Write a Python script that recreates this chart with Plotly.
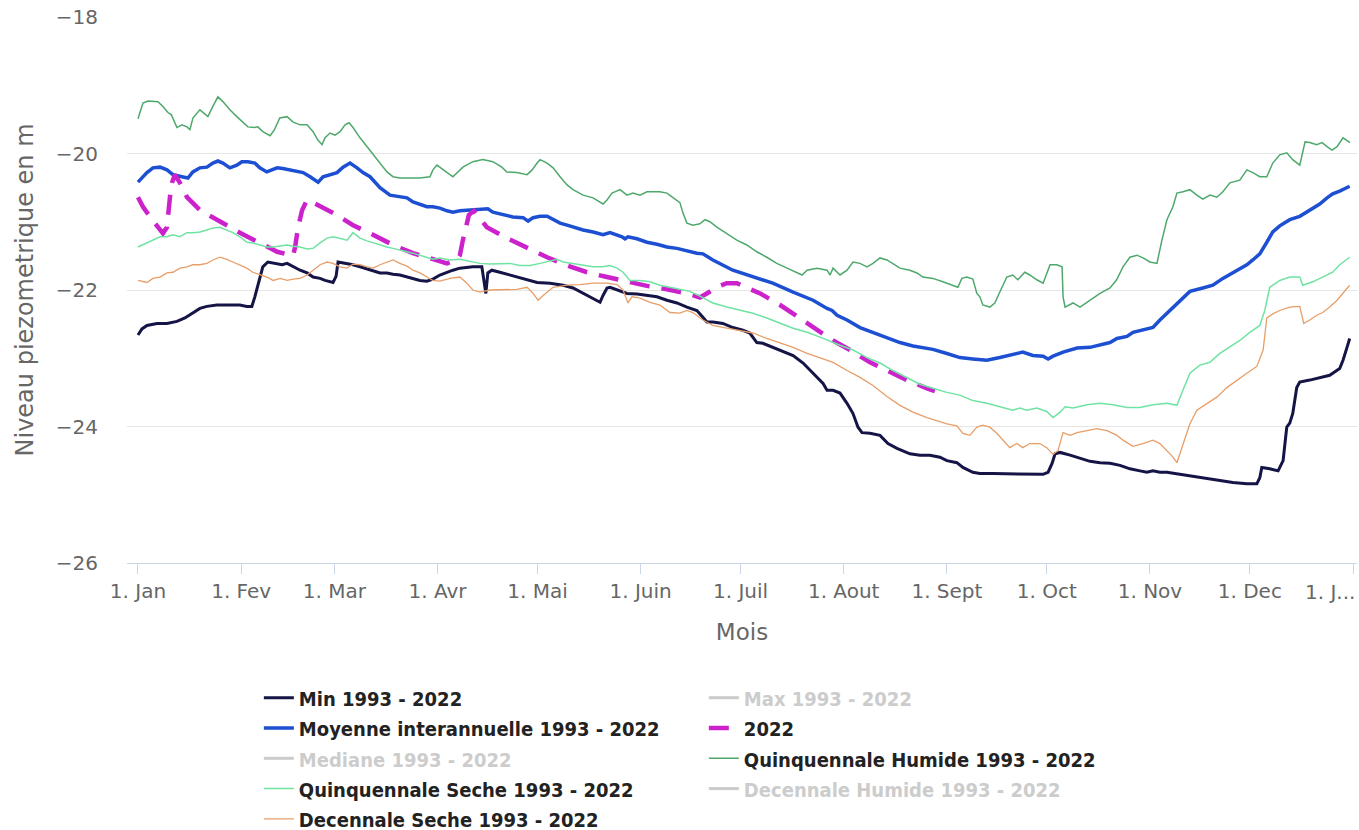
import pandas as pd
import plotly.graph_objects as go

# ---------------- data (day of year since 1 Jan, level in m) ----------------
YEAR_START = "2022-01-01"

MONTH_TICKS = ["2022-01-01", "2022-02-01", "2022-03-01", "2022-04-01", "2022-05-01",
               "2022-06-01", "2022-07-01", "2022-08-01", "2022-09-01", "2022-10-01",
               "2022-11-01", "2022-12-01", "2023-01-01"]
MONTH_LABELS = ["1. Jan", "1. Fev", "1. Mar", "1. Avr", "1. Mai", "1. Juin", "1. Juil",
                "1. Aout", "1. Sept", "1. Oct", "1. Nov", "1. Dec", "1. J..."]
Y_TICKS = [-26, -24, -22, -20, -18]

MIN_SERIES = [
    (0, -22.66), (1.2, -22.57), (2.7, -22.52), (5.7, -22.49), (8.7, -22.49), (11.7, -22.46),
    (14.1, -22.41), (16.5, -22.34), (18.6, -22.27), (20.7, -22.24), (23.7, -22.22), (26.7, -22.22),
    (30.6, -22.22), (32.7, -22.24), (34.2, -22.24), (35.1, -22.10), (36, -21.93), (37.5, -21.66),
    (39, -21.59), (41.2, -21.61), (43.3, -21.63), (44.8, -21.61), (46.6, -21.66), (48.7, -21.71),
    (50.8, -21.75), (52.6, -21.81), (54.7, -21.83), (56.2, -21.86), (58.6, -21.89), (59.5, -21.80),
    (60.1, -21.59), (62.8, -21.61), (64.6, -21.63), (66.7, -21.66), (68.8, -21.69), (70.6, -21.72),
    (72.7, -21.75), (74.8, -21.75), (76.6, -21.77), (78.7, -21.78), (80.8, -21.81), (82.6, -21.83),
    (84.7, -21.86), (86.8, -21.87), (88.6, -21.84), (90.7, -21.78), (92.8, -21.74), (94.6, -21.71),
    (96.7, -21.68), (100.6, -21.66), (103.3, -21.66), (103.9, -21.86), (104.5, -22.05), (105.1, -21.75),
    (106.3, -21.71), (108.7, -21.74), (111.7, -21.78), (114.7, -21.83), (119.9, -21.89), (123.8, -21.90),
    (127.7, -21.93), (130.7, -21.97), (133.7, -22.05), (136.7, -22.12), (138.8, -22.18), (139.7, -22.08),
    (140.9, -21.97), (141.8, -21.96), (143.9, -22.00), (146.9, -22.05), (149.9, -22.06), (152.9, -22.08),
    (155.9, -22.10), (158.9, -22.15), (161.9, -22.19), (164.9, -22.25), (167.9, -22.30), (169.7, -22.40),
    (170.9, -22.47), (172.7, -22.47), (175.7, -22.49), (178.7, -22.55), (181.7, -22.59), (183.8, -22.63),
    (185.9, -22.77), (187.7, -22.78), (190.7, -22.84), (193.8, -22.91), (196.8, -22.96), (199.8, -23.07),
    (202.8, -23.22), (205.8, -23.37), (207, -23.47), (208.8, -23.47), (210.9, -23.51), (213, -23.66),
    (214.8, -23.81), (216.3, -24.01), (217.5, -24.09), (219.9, -24.10), (222.9, -24.13), (225.3, -24.25),
    (228, -24.32), (231.9, -24.40), (234.9, -24.42), (237.9, -24.42), (240.9, -24.45), (243, -24.50),
    (246, -24.53), (247.8, -24.60), (250.8, -24.67), (252.9, -24.69), (256.8, -24.69), (261, -24.69),
    (264.9, -24.69), (268.8, -24.70), (271.9, -24.70), (273.4, -24.67), (274.6, -24.54), (275.5, -24.40),
    (277, -24.38), (280, -24.42), (283, -24.47), (286, -24.51), (289, -24.53), (292, -24.54),
    (295, -24.57), (298, -24.62), (301, -24.65), (303.1, -24.67), (304.9, -24.65), (307, -24.67),
    (309.1, -24.67), (313, -24.70), (316.9, -24.73), (321.1, -24.76), (325, -24.79), (328.9, -24.82),
    (333.1, -24.84), (336.1, -24.84), (337, -24.75), (337.6, -24.60), (340, -24.62), (342.5, -24.65),
    (344, -24.50), (345.1, -24.01), (346, -23.95), (346.9, -23.81), (348.1, -23.43), (349, -23.35),
    (352, -23.32), (355, -23.29), (358, -23.25), (361, -23.15), (362, -23.03), (363.2, -22.84),
    (364, -22.71),
]

MOYENNE_SERIES = [
    (0, -20.42), (2.7, -20.28), (4.5, -20.21), (6.6, -20.20), (8.7, -20.24), (10.5, -20.31),
    (13.2, -20.34), (15, -20.36), (16.5, -20.27), (18.6, -20.21), (20.7, -20.20), (22.5, -20.14),
    (24, -20.11), (25.5, -20.14), (27.6, -20.21), (29.7, -20.17), (31.2, -20.12), (33, -20.12),
    (35.1, -20.14), (36.6, -20.21), (38.7, -20.27), (40.3, -20.24), (41.8, -20.21), (43.5, -20.22),
    (45.7, -20.24), (47.8, -20.27), (49.6, -20.28), (51.7, -20.34), (54.1, -20.42), (55.6, -20.34),
    (57.7, -20.31), (59.8, -20.28), (61.6, -20.20), (63.7, -20.14), (65.8, -20.21), (67.6, -20.28),
    (69.7, -20.34), (72.7, -20.50), (75.7, -20.61), (78.7, -20.64), (80.8, -20.65), (82.6, -20.71),
    (84.7, -20.75), (86.8, -20.78), (88.6, -20.78), (90.7, -20.80), (92.8, -20.84), (94.6, -20.86),
    (96.7, -20.84), (99.7, -20.83), (102.7, -20.81), (105.1, -20.81), (106.6, -20.86), (109.6, -20.90),
    (112.6, -20.93), (115.7, -20.94), (117.2, -20.99), (118.7, -20.94), (120.8, -20.92), (122.9, -20.92),
    (124.7, -20.96), (126.8, -21.02), (128.9, -21.05), (130.7, -21.08), (133.7, -21.12), (136.7, -21.15),
    (139.7, -21.19), (141.8, -21.16), (143.9, -21.19), (145.4, -21.22), (146.3, -21.25), (147.2, -21.22),
    (149.9, -21.25), (152.9, -21.30), (155.9, -21.33), (158.9, -21.37), (161.9, -21.39), (164.9, -21.43),
    (167.9, -21.46), (169.7, -21.47), (172.7, -21.56), (178.7, -21.71), (184.7, -21.81), (190.7, -21.90),
    (196.8, -22.03), (202.8, -22.15), (207, -22.27), (208.5, -22.30), (210, -22.37), (213, -22.44),
    (216.9, -22.55), (220.8, -22.62), (225, -22.69), (228.9, -22.77), (232.8, -22.82), (237, -22.85),
    (238.8, -22.87), (243, -22.93), (246.9, -22.99), (250.8, -23.01), (255, -23.03), (258.9, -22.99),
    (262.8, -22.94), (265.8, -22.91), (268.8, -22.96), (271.9, -22.97), (273.4, -23.01), (274.9, -22.97),
    (277.9, -22.91), (282.1, -22.85), (286, -22.84), (289, -22.81), (292, -22.77), (294.1, -22.71),
    (297.1, -22.68), (298.9, -22.62), (301.9, -22.59), (304.9, -22.55), (307, -22.44), (309.1, -22.34),
    (310.9, -22.25), (313, -22.15), (316, -22.02), (319.9, -21.97), (322.9, -21.93), (325.9, -21.83),
    (328.9, -21.75), (333.1, -21.63), (334.9, -21.56), (337, -21.47), (339.1, -21.30), (340.9, -21.15),
    (343, -21.06), (346, -20.97), (349, -20.92), (351.1, -20.86), (352.9, -20.80), (355, -20.74),
    (357.2, -20.65), (358.9, -20.59), (361, -20.55), (364, -20.48),
]

Y2022_SERIES = [
    (0, -20.64), (1.5, -20.78), (3.6, -20.93), (6, -21.08), (7.5, -21.17), (8.7, -21.08),
    (9, -20.87), (9.6, -20.64), (10.2, -20.43), (11.1, -20.31), (12.6, -20.43), (14.7, -20.64),
    (18.6, -20.83), (24.6, -21.00), (30.6, -21.16), (36.6, -21.31), (41.8, -21.44), (46.6, -21.50),
    (47.2, -21.37), (48.1, -21.08), (49.3, -20.83), (50.8, -20.68), (52.3, -20.71), (58.6, -20.87),
    (64.6, -21.05), (70.6, -21.19), (76.6, -21.34), (82.6, -21.46), (87.7, -21.53), (92.8, -21.61),
    (95.8, -21.56), (96.7, -21.49), (97.6, -21.27), (98.5, -21.05), (99.4, -20.90), (100.9, -20.84),
    (104.8, -21.08), (110.8, -21.24), (116.9, -21.39), (122.9, -21.52), (128.9, -21.64), (134.9, -21.74),
    (140.9, -21.81), (146.9, -21.88), (152.9, -21.94), (158.9, -21.99), (164.9, -22.05), (168.8, -22.11),
    (172.4, -22.00), (174.8, -21.94), (176.9, -21.90), (179.9, -21.90), (181.7, -21.94), (186.9, -22.05),
    (192.9, -22.22), (198.9, -22.41), (204, -22.59), (208.8, -22.74), (213.9, -22.88), (219.9, -23.06),
    (225, -23.18), (231, -23.32), (237, -23.44), (239.4, -23.48),
]

QUINQ_HUMIDE_SERIES = [
    (0, -19.49), (1.5, -19.26), (3, -19.23), (4.5, -19.24), (6, -19.24), (7.5, -19.31),
    (9, -19.40), (10, -19.43), (11.7, -19.62), (13.2, -19.58), (14.7, -19.61), (15.6, -19.65),
    (16.5, -19.48), (18.6, -19.36), (19.5, -19.40), (21, -19.46), (22.5, -19.31), (24, -19.17),
    (25.5, -19.24), (27.6, -19.36), (29.7, -19.46), (31.5, -19.55), (33, -19.61), (35, -19.62),
    (36, -19.61), (37.5, -19.68), (39.7, -19.74), (41, -19.65), (42.6, -19.48), (44.8, -19.46),
    (46.6, -19.54), (48.7, -19.58), (50.8, -19.58), (52.6, -19.68), (54, -19.80), (55.3, -19.87),
    (56.2, -19.77), (57.7, -19.70), (59.2, -19.73), (60.7, -19.68), (62.2, -19.58), (63.4, -19.55),
    (64.6, -19.62), (66.7, -19.77), (68.8, -19.90), (70.6, -20.02), (72.7, -20.14), (74.8, -20.27),
    (76.6, -20.34), (78.7, -20.36), (81.7, -20.36), (84.7, -20.36), (87.7, -20.34), (88.6, -20.24),
    (89.8, -20.17), (91.6, -20.24), (93.7, -20.31), (94.6, -20.34), (97.6, -20.20), (100.6, -20.12),
    (103.6, -20.09), (106.6, -20.12), (109.3, -20.20), (110.8, -20.27), (113.8, -20.28), (116.9, -20.31),
    (118.4, -20.24), (119.9, -20.14), (120.8, -20.09), (122.9, -20.14), (124.7, -20.21), (126.8, -20.34),
    (128.9, -20.46), (130.7, -20.53), (133.7, -20.61), (136.7, -20.65), (139.7, -20.74), (140.9, -20.68),
    (142.4, -20.58), (144.8, -20.53), (146.9, -20.61), (148.7, -20.58), (150.8, -20.61), (152.9, -20.56),
    (156.8, -20.56), (158.9, -20.58), (160.7, -20.65), (162.8, -20.72), (163.7, -20.87), (164.9, -21.02),
    (166.7, -21.05), (168.8, -21.03), (170.3, -20.97), (171.8, -21.00), (173.9, -21.08), (176.9, -21.17),
    (179.9, -21.27), (182.9, -21.34), (185.9, -21.44), (188.9, -21.52), (191.9, -21.61), (195, -21.68),
    (198, -21.75), (199.5, -21.78), (201, -21.71), (204, -21.68), (207, -21.71), (207.9, -21.78),
    (208.8, -21.68), (210.9, -21.78), (213, -21.71), (214.8, -21.59), (216.9, -21.61), (219, -21.66),
    (220.8, -21.61), (222.9, -21.53), (225, -21.56), (226.8, -21.61), (228.9, -21.68), (231.9, -21.71),
    (234, -21.75), (235.8, -21.81), (238.8, -21.83), (241.8, -21.88), (244.8, -21.94), (246.3, -21.96),
    (247.5, -21.83), (249, -21.81), (250.8, -21.84), (252, -22.05), (252.9, -22.10), (253.8, -22.22),
    (255.9, -22.25), (257.4, -22.19), (258.9, -22.03), (260.4, -21.88), (261, -21.81), (262.8, -21.78),
    (264.3, -21.85), (266.4, -21.74), (267.9, -21.78), (270, -21.85), (271.9, -21.90), (274, -21.63),
    (276, -21.63), (277.6, -21.66), (277.9, -22.10), (278.5, -22.25), (280.9, -22.19), (283, -22.25),
    (285, -22.18), (286.9, -22.12), (289, -22.05), (292, -21.97), (294, -21.85), (295.9, -21.66),
    (298, -21.52), (300.1, -21.49), (301.9, -21.53), (304, -21.59), (306.1, -21.61), (307.6, -21.27),
    (309.1, -20.97), (310.9, -20.78), (312.1, -20.58), (313.9, -20.56), (316, -20.53), (318.1, -20.61),
    (319.9, -20.67), (322, -20.61), (324.1, -20.64), (325.9, -20.56), (328, -20.43), (331, -20.39),
    (333.1, -20.24), (334.9, -20.28), (337, -20.34), (339.1, -20.34), (340.9, -20.14), (343, -20.02),
    (345.1, -19.99), (346.9, -20.09), (349, -20.17), (350.6, -19.83), (352, -19.84), (354.1, -19.87),
    (355.7, -19.84), (357.2, -19.90), (358.7, -19.95), (360.2, -19.90), (362, -19.77), (364.1, -19.84),
]

QUINQ_SECHE_SERIES = [
    (0, -21.37), (2.7, -21.31), (4.5, -21.27), (6.6, -21.22), (8.7, -21.22), (10.5, -21.19),
    (12.6, -21.22), (14.7, -21.16), (16.5, -21.16), (18.6, -21.15), (20.7, -21.12), (22.5, -21.09),
    (24.6, -21.08), (26.7, -21.12), (28.5, -21.16), (30.6, -21.22), (32.7, -21.30), (34.5, -21.31),
    (36.6, -21.34), (38.7, -21.37), (40.6, -21.37), (42.7, -21.36), (44.8, -21.34), (46.6, -21.36),
    (48.7, -21.37), (50.8, -21.40), (52.6, -21.39), (54.7, -21.31), (56.8, -21.24), (58.6, -21.22),
    (60.7, -21.24), (62.8, -21.27), (64.6, -21.16), (66.7, -21.24), (68.8, -21.28), (70.6, -21.31),
    (72.7, -21.34), (74.8, -21.37), (76.6, -21.39), (78.7, -21.41), (80.8, -21.44), (82.6, -21.46),
    (84.7, -21.49), (86.8, -21.52), (88.6, -21.55), (90.7, -21.53), (93.7, -21.56), (96.7, -21.55),
    (99.7, -21.58), (102.7, -21.61), (105.7, -21.62), (108.7, -21.61), (111.7, -21.61), (114.7, -21.64),
    (117.8, -21.64), (120.8, -21.61), (123.8, -21.58), (125.9, -21.55), (127.7, -21.59), (130.7, -21.61),
    (133.7, -21.64), (136.7, -21.66), (139.7, -21.66), (141.8, -21.64), (143.9, -21.68), (145.7, -21.74),
    (147.8, -21.86), (150.8, -21.86), (153.8, -21.88), (156.8, -21.93), (159.8, -21.96), (162.8, -21.99),
    (165.8, -22.02), (168.8, -22.09), (172.7, -22.19), (176.9, -22.25), (180.8, -22.30), (184.7, -22.34),
    (188.9, -22.41), (192.9, -22.49), (196.8, -22.56), (201, -22.62), (204.9, -22.69), (210.9, -22.81),
    (214.8, -22.88), (219, -22.99), (222.9, -23.07), (226.8, -23.18), (231, -23.28), (234.9, -23.38),
    (238.8, -23.44), (243, -23.50), (246.9, -23.54), (250.8, -23.62), (255, -23.66), (258.9, -23.71),
    (262.8, -23.76), (264.9, -23.73), (267, -23.76), (270, -23.73), (273, -23.78), (274.9, -23.87),
    (277, -23.79), (278.5, -23.71), (280.9, -23.73), (285.1, -23.68), (289, -23.66), (292.9, -23.68),
    (297.1, -23.72), (301, -23.72), (304.9, -23.68), (309.1, -23.66), (312.1, -23.69), (313.9, -23.47),
    (316, -23.22), (319, -23.10), (322, -23.06), (325, -22.93), (328, -22.84), (331, -22.74),
    (334, -22.62), (337, -22.52), (338.5, -22.30), (340, -21.96), (343, -21.86), (346, -21.81),
    (349, -21.81), (349.9, -21.93), (352.9, -21.88), (355.9, -21.81), (358.9, -21.74), (361, -21.63),
    (364, -21.52),
]

DEC_SECHE_SERIES = [
    (0, -21.86), (2.7, -21.89), (4.5, -21.83), (6.6, -21.81), (8.7, -21.75), (10.5, -21.74),
    (12.6, -21.68), (14.7, -21.66), (16.5, -21.63), (18.6, -21.63), (20.7, -21.61), (22.5, -21.56),
    (24.6, -21.52), (26.7, -21.55), (28.5, -21.59), (30.6, -21.63), (32.7, -21.68), (34.5, -21.74),
    (36.6, -21.78), (38.7, -21.81), (40.6, -21.86), (42.7, -21.83), (44.8, -21.86), (46.6, -21.84),
    (48.7, -21.83), (50.8, -21.78), (52.6, -21.71), (54.7, -21.63), (56.8, -21.59), (58.6, -21.61),
    (60.7, -21.66), (62.8, -21.68), (64.6, -21.62), (66.7, -21.63), (68.8, -21.66), (70.6, -21.68),
    (72.7, -21.63), (74.8, -21.59), (76.6, -21.56), (78.7, -21.61), (80.8, -21.65), (82.6, -21.71),
    (84.7, -21.75), (86.8, -21.81), (88.6, -21.86), (90.7, -21.87), (93.7, -21.83), (96.7, -21.81),
    (98.8, -21.90), (100.6, -22.00), (102.7, -22.03), (105.7, -22.00), (108.7, -22.00), (110.8, -22.00),
    (113.8, -21.99), (116.9, -21.96), (118.7, -22.05), (120.2, -22.15), (121.7, -22.08), (124.7, -21.96),
    (128.9, -21.93), (132.8, -21.92), (136.7, -21.90), (140.9, -21.90), (143.9, -21.92), (145.7, -22.00),
    (147.2, -22.19), (148.4, -22.10), (150.8, -22.12), (153.8, -22.18), (156.8, -22.22), (159.8, -22.33),
    (162.8, -22.34), (164.9, -22.30), (166.7, -22.33), (169.7, -22.44), (172.7, -22.52), (176.9, -22.56),
    (180.8, -22.59), (184.7, -22.63), (188.9, -22.71), (192.9, -22.78), (196.8, -22.84), (201, -22.93),
    (204.9, -22.99), (208.8, -23.06), (213, -23.18), (216.9, -23.28), (220.8, -23.40), (225, -23.56),
    (228.9, -23.69), (232.8, -23.79), (237, -23.87), (243, -23.96), (246, -23.99), (247.8, -24.10),
    (249.9, -24.13), (252, -24.01), (253.8, -23.98), (255.9, -24.01), (258, -24.10), (259.8, -24.20),
    (261.9, -24.31), (264, -24.25), (265.8, -24.31), (267.9, -24.25), (270.9, -24.25), (273, -24.31),
    (274.9, -24.41), (276.4, -24.35), (277.9, -24.09), (280, -24.13), (282.1, -24.09), (285.1, -24.06),
    (288.1, -24.03), (291.1, -24.06), (294.1, -24.13), (295.9, -24.20), (298.9, -24.29), (301.9, -24.25),
    (304.9, -24.20), (307, -24.25), (309.1, -24.35), (310.6, -24.43), (312.1, -24.53), (313.6, -24.31),
    (316, -23.96), (318.1, -23.76), (321.1, -23.66), (324.1, -23.57), (327.1, -23.43), (330.1, -23.32),
    (333.1, -23.22), (336.1, -23.12), (338, -22.88), (339.1, -22.41), (340.9, -22.35), (343, -22.30),
    (346, -22.25), (349, -22.24), (349.6, -22.37), (350.2, -22.49), (352, -22.44), (354.1, -22.37),
    (355.9, -22.33), (358, -22.25), (360.2, -22.15), (362, -22.05), (364, -21.93),
]

# series shown only in the legend (hidden in the original chart)
EMPTY_SERIES = []

# ---------------- helpers ----------------
base = pd.Timestamp(YEAR_START)


def xy(series):
    days = [d for d, _ in series]
    vals = [v for _, v in series]
    dates = [base + pd.to_timedelta(d, unit="D") for d in days]
    return dates, vals


fig = go.Figure()

traces = [
    ("Min 1993 - 2022", MIN_SERIES, dict(color="#141446", width=3), True),
    ("Max 1993 - 2022", EMPTY_SERIES, dict(color="#999999", width=3), False),
    ("Moyenne interannuelle 1993 - 2022", MOYENNE_SERIES, dict(color="#1d4fd2", width=3.5), True),
    ("2022", Y2022_SERIES, dict(color="#cc22cc", width=4.5, dash="20px,12px"), True),
    ("Mediane 1993 - 2022", EMPTY_SERIES, dict(color="#999999", width=3), False),
    ("Quinquennale Humide 1993 - 2022", QUINQ_HUMIDE_SERIES, dict(color="#4ea86c", width=1.5), True),
    ("Quinquennale Seche 1993 - 2022", QUINQ_SECHE_SERIES, dict(color="#6fe3a2", width=1.5), True),
    ("Decennale Humide 1993 - 2022", EMPTY_SERIES, dict(color="#999999", width=3), False),
    ("Decennale Seche 1993 - 2022", DEC_SECHE_SERIES, dict(color="#e89e68", width=1.3), True),
]

for name, series, line, shown in traces:
    if series:
        x, y = xy(series)
    else:
        x, y = [None], [None]
    style = "font-size:20px" if shown else "font-size:20px;color:#9a9a9a"
    label = "<span style='" + style + "'>" + name + "</span>"
    fig.add_trace(go.Scatter(
        x=x, y=y, mode="lines", name=label, line=line,
        visible=True if shown else "legendonly",
        hoverinfo="skip",
    ))

x_start = base - pd.to_timedelta(3.3, unit="D")
x_end = base + pd.to_timedelta(366.2, unit="D")

axis_font = dict(family="DejaVu Sans", size=20, color="#666666")

# last month label drawn as annotation, right-aligned to stay inside the chart
tick_text = MONTH_LABELS[:-1] + [""]

fig.add_annotation(
    text=MONTH_LABELS[-1], xref="paper", x=1.0, xanchor="right",
    yref="paper", y=0, yanchor="top", yshift=-15, showarrow=False,
    font=axis_font,
)

fig.update_layout(
    width=1359, height=830,
    paper_bgcolor="white", plot_bgcolor="white",
    margin=dict(l=127, r=2, t=17, b=267, autoexpand=False),
    showlegend=True,
    legend=dict(
        orientation="h", x=0.1072, xanchor="left", y=-0.2098, yanchor="top",
        entrywidth=400, entrywidthmode="pixels", itemwidth=30,
        font=dict(family="DejaVu Sans Condensed, Liberation Sans Narrow, DejaVu Sans",
                  size=21, color="#222222", weight="bold"),
        bgcolor="rgba(0,0,0,0)", traceorder="normal",
    ),
    xaxis=dict(
        type="date", range=[x_start, x_end], automargin=False,
        tickvals=pd.to_datetime(MONTH_TICKS), ticktext=tick_text,
        showgrid=False, zeroline=False,
        showline=True, linecolor="#ccd6eb", linewidth=1,
        ticks="outside", ticklen=10, tickcolor="#ccd6eb",
        tickfont=axis_font,
        title=dict(text="Mois", font=dict(family="DejaVu Sans", size=23, color="#666666"), standoff=21),
    ),
    yaxis=dict(
        range=[-26, -18], tickvals=Y_TICKS, automargin=False,
        showgrid=True, gridcolor="#e6e6e6", gridwidth=1,
        zeroline=False, showline=False,
        tickfont=axis_font, ticklabelstandoff=28,
        title=dict(text="Niveau piezometrique en m",
                   font=dict(family="DejaVu Sans", size=24, color="#666666"), standoff=15),
    ),
)

fig.write_html(
    "out.html",
    config={"displayModeBar": False},
    post_script="document.body.style.margin='0';document.body.style.overflow='hidden';",
)
